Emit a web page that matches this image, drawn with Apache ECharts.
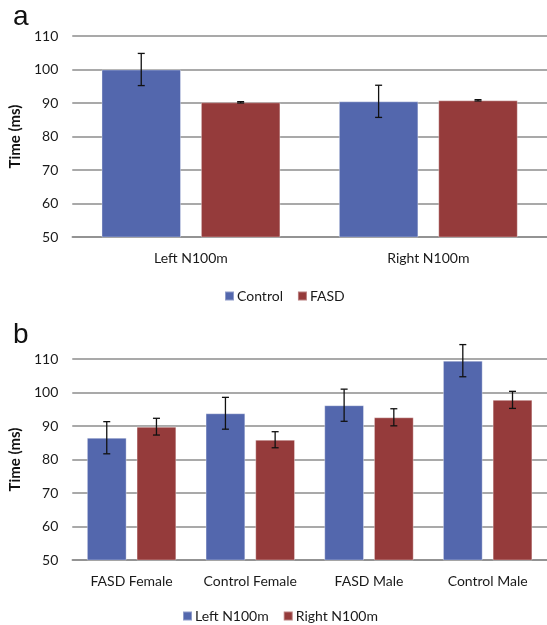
<!DOCTYPE html>
<html>
<head>
<meta charset="utf-8">
<script src="https://cdn.jsdelivr.net/npm/echarts@6/dist/echarts.min.js"></script>
<style>
  html, body { margin: 0; padding: 0; background: #fff; }
  #main { width: 547px; height: 625px; }
</style>
</head>
<body>
<div id="main"></div>
<script>
// panel a
var catsA = ['Left N100m', 'Right N100m'];
var controlA = [100, 90.5];
var controlErrA = [4.8, 4.8];
var fasdA = [90.2, 90.8];
var fasdErrA = [0.2, 0.2];

// panel b
var catsB = ['FASD Female', 'Control Female', 'FASD Male', 'Control Male'];
var leftB = [86.5, 93.8, 96.2, 109.5];
var leftErrB = [4.8, 4.75, 4.8, 4.8];
var rightB = [89.8, 85.9, 92.6, 97.8];
var rightErrB = [2.5, 2.4, 2.55, 2.55];

var yTicks = [50, 60, 70, 80, 90, 100, 110];

var BLUE = '#5367ad';
var RED = '#953b3b';
var FONT = 'Lato';
var TXT = '#1a1a1a';
var BAR_W = 0.335, BAR_GAP = 0.25;

// error bar drawn at the bar's place inside the category (side -1 left, +1 right)
function errSeries(vals, errs, side, idx) {
  return {
    type: 'custom',
    xAxisIndex: idx, yAxisIndex: idx,
    z: 5,
    silent: true,
    data: vals.map(function (v, i) { return [i, v - errs[i], v + errs[i]]; }),
    renderItem: function (params, api) {
      var band = api.size([1, 0])[0];
      var off = side * band * BAR_W * (1 + BAR_GAP) / 2;
      var lo = api.coord([api.value(0), api.value(1)]);
      var hi = api.coord([api.value(0), api.value(2)]);
      var x = lo[0] + off, cap = 3.5;
      var st = { stroke: '#111', lineWidth: 1.3 };
      return {
        type: 'group',
        children: [
          { type: 'line', shape: { x1: x, y1: lo[1], x2: x, y2: hi[1] }, style: st },
          { type: 'line', shape: { x1: x - cap, y1: lo[1], x2: x + cap, y2: lo[1] }, style: st },
          { type: 'line', shape: { x1: x - cap, y1: hi[1], x2: x + cap, y2: hi[1] }, style: st }
        ]
      };
    }
  };
}

function barSeries(name, vals, color, idx) {
  return {
    name: name, type: 'bar',
    xAxisIndex: idx, yAxisIndex: idx,
    data: vals,
    barWidth: (BAR_W * 100) + '%',
    barGap: (BAR_GAP * 100) + '%',
    itemStyle: { color: color, borderColor: 'rgba(255,255,255,0.35)', borderWidth: 1 }
  };
}

function xAx(cats, idx) {
  return {
    type: 'category', gridIndex: idx, data: cats,
    axisLine: { lineStyle: { color: '#8c8c8c', width: 1.5 } },
    axisTick: { show: false },
    axisLabel: { color: TXT, fontSize: 14, fontFamily: FONT, margin: 14, interval: 0 }
  };
}

function yAx(idx) {
  return {
    type: 'value', gridIndex: idx,
    min: yTicks[0], max: yTicks[yTicks.length - 1], interval: 10,
    name: 'Time (ms)', nameLocation: 'middle', nameGap: 44, nameRotate: 90,
    nameTextStyle: { color: '#111', fontSize: 15, fontWeight: 'bold', fontFamily: FONT },
    axisLine: { show: false }, axisTick: { show: false },
    axisLabel: { color: TXT, fontSize: 14, fontFamily: FONT, margin: 14 },
    splitLine: { lineStyle: { color: '#8c8c8c', width: 1.5 } }
  };
}

var chart = echarts.init(document.getElementById('main'));
chart.setOption({
  animation: false,
  backgroundColor: '#fff',
  title: [
    { text: 'a', left: 8, top: -2, textStyle: { fontSize: 28, fontWeight: 'normal', color: '#111', fontFamily: 'Liberation Sans' } },
    { text: 'b', left: 8, top: 316, textStyle: { fontSize: 28, fontWeight: 'normal', color: '#111', fontFamily: 'Liberation Sans' } }
  ],
  legend: [
    { data: ['Control', 'FASD'], left: 219, top: 284, icon: 'rect', itemWidth: 9, itemHeight: 9, itemGap: 14,
      textStyle: { color: TXT, fontSize: 14, fontFamily: FONT, padding: [0, 0, 0, -2] } },
    { data: ['Left N100m', 'Right N100m'], left: 177, top: 604, icon: 'rect', itemWidth: 9, itemHeight: 9, itemGap: 14,
      textStyle: { color: TXT, fontSize: 14, fontFamily: FONT, padding: [0, 0, 0, -2] } }
  ],
  grid: [
    { left: 71, right: 0, top: 36, height: 201 },
    { left: 71, right: 0, top: 359, height: 201 }
  ],
  xAxis: [xAx(catsA, 0), xAx(catsB, 1)],
  yAxis: [yAx(0), yAx(1)],
  series: [
    barSeries('Control', controlA, BLUE, 0),
    barSeries('FASD', fasdA, RED, 0),
    errSeries(controlA, controlErrA, -1, 0),
    errSeries(fasdA, fasdErrA, 1, 0),
    barSeries('Left N100m', leftB, BLUE, 1),
    barSeries('Right N100m', rightB, RED, 1),
    errSeries(leftB, leftErrB, -1, 1),
    errSeries(rightB, rightErrB, 1, 1)
  ]
});
</script>
</body>
</html>
